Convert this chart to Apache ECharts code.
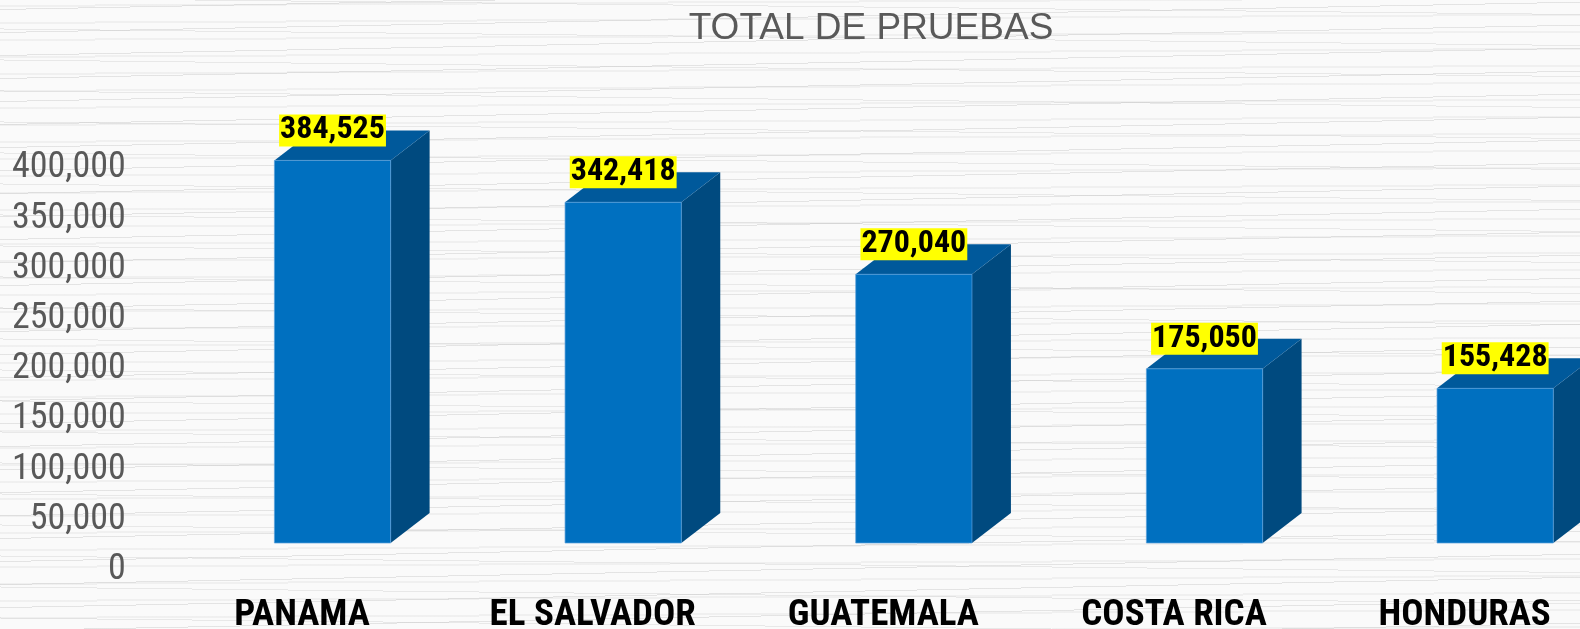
<!DOCTYPE html>
<html>
<head>
<meta charset="utf-8">
<title>TOTAL DE PRUEBAS</title>
<script src="https://cdn.jsdelivr.net/npm/echarts@6/dist/echarts.min.js"></script>
<style>
  html, body { margin: 0; padding: 0; }
  body {
    width: 1580px; height: 629px; overflow: hidden;
    background:
      repeating-linear-gradient(178.9deg, rgba(255,255,255,0) 0 9px, rgba(200,200,200,0.45) 9px 10px, rgba(255,255,255,0) 10px 23px),
      repeating-linear-gradient(180.6deg, rgba(255,255,255,0) 0 14px, rgba(205,205,205,0.4) 14px 15px, rgba(255,255,255,0) 15px 31px),
      repeating-linear-gradient(179.7deg, rgba(255,255,255,0) 0 5px, rgba(230,230,230,0.5) 5px 7px, rgba(255,255,255,0) 7px 17px),
      #fafafa;
  }
  #chart { width: 1580px; height: 629px; }
</style>
</head>
<body>
<div id="chart"></div>
<script>
// Pruebas totales por país
const categories = ['PANAMA', 'EL SALVADOR', 'GUATEMALA', 'COSTA RICA', 'HONDURAS'];
const totals = [384525, 342418, 270040, 175050, 155428];
const axisMax = 400000;
const axisStep = 50000;

const NARROW = "'Roboto Condensed', 'Open Sans Condensed', 'Liberation Sans Narrow', 'Arial Narrow', sans-serif";
const fmt = v => Number(v).toLocaleString('en-US');

const FRONT = '#0070C0';
const SIDE = '#004A7F';
const TOP = '#00599B';

// 3D column: front face, right side face and top face, plus value tag
function renderColumn(params, api) {
  const i = api.value(0);
  const v = api.value(1);
  const top = api.coord([i, v]);
  const base = api.coord([i, 0]);
  const band = api.size([1, 0])[0];
  const w = band * 0.4;
  const dx = band * 0.134;
  const dy = -30;
  const x0 = top[0] - w / 2, x1 = top[0] + w / 2;
  const yT = top[1], yB = base[1];
  return {
    type: 'group',
    children: [
      { type: 'polygon', shape: { points: [[x1, yT], [x1 + dx, yT + dy], [x1 + dx, yB + dy], [x1, yB]] },
        style: { fill: SIDE } },
      { type: 'polygon', shape: { points: [[x0, yT], [x0 + dx, yT + dy], [x1 + dx, yT + dy], [x1, yT]] },
        style: { fill: TOP } },
      { type: 'rect', shape: { x: x0, y: yT, width: w, height: yB - yT },
        style: { fill: FRONT, stroke: 'rgba(90,160,220,0.7)', lineWidth: 1 } },
      { type: 'text', z2: 10,
        style: {
          text: fmt(v), x: top[0], y: yT - 14,
          align: 'center', verticalAlign: 'bottom',
          fill: '#000', backgroundColor: '#FFFF00',
          font: 'bold 32px ' + NARROW, lineHeight: 32, padding: [0, 1]
        } }
    ]
  };
}

const chart = echarts.init(document.getElementById('chart'), null, { renderer: 'canvas' });
chart.setOption({
  backgroundColor: 'transparent',
  animation: false,
  title: {
    text: 'TOTAL DE PRUEBAS',
    left: 866, top: 5, textAlign: 'center',
    textStyle: { fontFamily: "'Liberation Sans', Arial, sans-serif", fontSize: 37, fontWeight: 'normal', color: '#595959' }
  },
  grid: [
    // value axis and category labels
    { left: 156.7, width: 1453.3, top: 168.3, height: 401.7, outerBoundsMode: 'none' },
    // columns, drawn in front of the back wall
    { left: 187.2, width: 1453.3, top: 145, height: 398, outerBoundsMode: 'none' }
  ],
  xAxis: [
    { gridIndex: 0, type: 'category', data: categories,
      axisLine: { show: false }, axisTick: { show: false },
      axisLabel: { interval: 0, margin: 27, color: '#000', fontFamily: NARROW, fontWeight: 'bold', fontSize: 37 } },
    { gridIndex: 1, type: 'category', data: categories, show: false }
  ],
  yAxis: [
    { gridIndex: 0, type: 'value', min: 0, max: axisMax, interval: axisStep,
      axisLine: { show: false }, axisTick: { show: false }, splitLine: { show: false },
      axisLabel: { margin: 31, color: '#595959', fontFamily: NARROW, fontSize: 36, formatter: fmt } },
    { gridIndex: 1, type: 'value', min: 0, max: axisMax, show: false }
  ],
  series: [{
    type: 'custom',
    xAxisIndex: 1, yAxisIndex: 1,
    renderItem: renderColumn,
    encode: { x: 0, y: 1 },
    data: totals.map((v, i) => [i, v]),
    clip: false
  }]
});
</script>
</body>
</html>
